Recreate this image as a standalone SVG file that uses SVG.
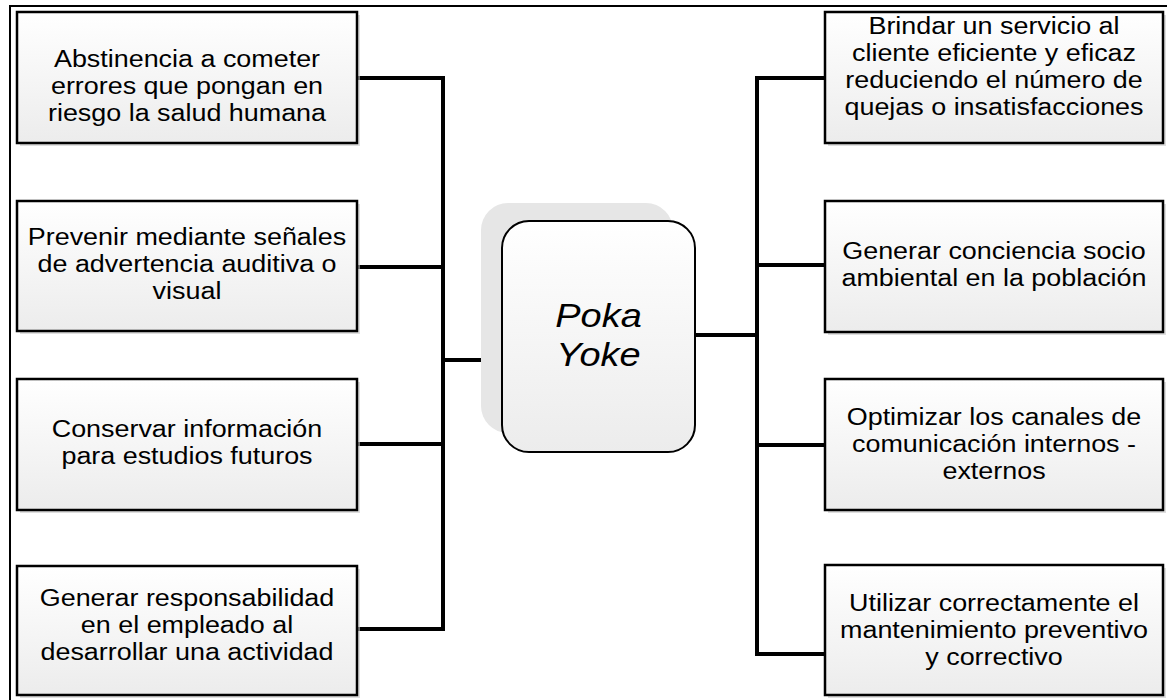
<svg xmlns="http://www.w3.org/2000/svg" width="1167" height="700" viewBox="0 0 1167 700">
<defs>
<linearGradient id="boxGrad" x1="0" y1="0" x2="0" y2="1">
<stop offset="0" stop-color="#ffffff"/>
<stop offset="1" stop-color="#ececec"/>
</linearGradient>
<style>
.box{fill:url(#boxGrad);stroke:#000;stroke-width:2.5}
.shadow{fill:#c8c8c8;opacity:0.6}
.lbl{font-family:"Liberation Sans",Arial,sans-serif;font-size:23px;fill:#000;text-anchor:middle}
.center{font-family:"Liberation Sans",Arial,sans-serif;font-size:33px;font-style:italic;fill:#000;text-anchor:middle}
.conn{stroke:#000;stroke-width:4;fill:none;stroke-linecap:square}
</style>
</defs>
<rect x="0" y="0" width="1167" height="700" fill="#fff"/>
<rect x="10" y="6" width="1180" height="720" fill="none" stroke="#000" stroke-width="2"/>

<g id="connectors">
<path class="conn" d="M357 78H443M357 267H443M357 444H443M357 629H443M443 78V629M443 360H502"/>
<path class="conn" d="M825 78H757M825 265H757M825 445H757M825 654H757M757 78V654M757 335H695"/>
</g>

<g id="center-node">
<rect x="481" y="203" width="192" height="230" rx="27" fill="#e6e6e6"/>
<rect x="502" y="221" width="193" height="231" rx="27" fill="url(#boxGrad)" stroke="#000" stroke-width="2"/>
<g transform="translate(598.5,0) scale(1.15,1)">
<text class="center" x="0" y="327">Poka</text>
<text class="center" x="0" y="366">Yoke</text>
</g>
</g>

<g id="left-1">
<rect class="shadow" x="20" y="15" width="340" height="131"/>
<rect class="box" x="17" y="12" width="340" height="131"/>
<g transform="translate(187,0) scale(1.17,1)">
<text class="lbl" x="0" y="67">Abstinencia a cometer</text>
<text class="lbl" x="0" y="94">errores que pongan en</text>
<text class="lbl" x="0" y="121">riesgo la salud humana</text>
</g>
</g>

<g id="left-2">
<rect class="shadow" x="20" y="204" width="340" height="130"/>
<rect class="box" x="17" y="201" width="340" height="130"/>
<g transform="translate(187,0) scale(1.17,1)">
<text class="lbl" x="0" y="245">Prevenir mediante señales</text>
<text class="lbl" x="0" y="272">de advertencia auditiva o</text>
<text class="lbl" x="0" y="299">visual</text>
</g>
</g>

<g id="left-3">
<rect class="shadow" x="20" y="382" width="340" height="131"/>
<rect class="box" x="17" y="379" width="340" height="131"/>
<g transform="translate(187,0) scale(1.17,1)">
<text class="lbl" x="0" y="437">Conservar información</text>
<text class="lbl" x="0" y="464">para estudios futuros</text>
</g>
</g>

<g id="left-4">
<rect class="shadow" x="20" y="569" width="340" height="129"/>
<rect class="box" x="17" y="566" width="340" height="129"/>
<g transform="translate(187,0) scale(1.17,1)">
<text class="lbl" x="0" y="606">Generar responsabilidad</text>
<text class="lbl" x="0" y="633">en el empleado al</text>
<text class="lbl" x="0" y="660">desarrollar una actividad</text>
</g>
</g>

<g id="right-1">
<rect class="shadow" x="828" y="15" width="338" height="131"/>
<rect class="box" x="825" y="12" width="338" height="131"/>
<g transform="translate(994,0) scale(1.17,1)">
<text class="lbl" x="0" y="34">Brindar un servicio al</text>
<text class="lbl" x="0" y="61">cliente eficiente y eficaz</text>
<text class="lbl" x="0" y="88">reduciendo el número de</text>
<text class="lbl" x="0" y="115">quejas o insatisfacciones</text>
</g>
</g>

<g id="right-2">
<rect class="shadow" x="828" y="204" width="338" height="131"/>
<rect class="box" x="825" y="201" width="338" height="131"/>
<g transform="translate(994,0) scale(1.17,1)">
<text class="lbl" x="0" y="259">Generar conciencia socio</text>
<text class="lbl" x="0" y="286">ambiental en la población</text>
</g>
</g>

<g id="right-3">
<rect class="shadow" x="828" y="382" width="338" height="131"/>
<rect class="box" x="825" y="379" width="338" height="131"/>
<g transform="translate(994,0) scale(1.17,1)">
<text class="lbl" x="0" y="425">Optimizar los canales de</text>
<text class="lbl" x="0" y="452">comunicación internos -</text>
<text class="lbl" x="0" y="479">externos</text>
</g>
</g>

<g id="right-4">
<rect class="shadow" x="828" y="568" width="338" height="130"/>
<rect class="box" x="825" y="565" width="338" height="130"/>
<g transform="translate(994,0) scale(1.17,1)">
<text class="lbl" x="0" y="611">Utilizar correctamente el</text>
<text class="lbl" x="0" y="638">mantenimiento preventivo</text>
<text class="lbl" x="0" y="665">y correctivo</text>
</g>
</g>
</svg>
